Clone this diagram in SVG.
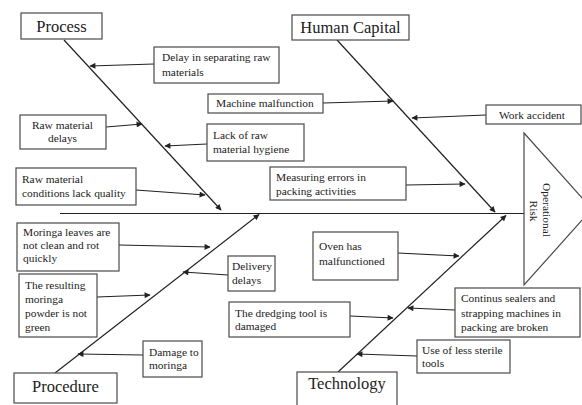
<svg xmlns="http://www.w3.org/2000/svg" width="582" height="405" viewBox="0 0 582 405">
<style>
.box{fill:#fff;stroke:#4a4a4a;stroke-width:1.2}
.t{font-family:"Liberation Serif","Times New Roman",serif;font-size:11.4px;fill:#222}
.h{font-family:"Liberation Serif","Times New Roman",serif;font-size:16.5px;fill:#222}
.c{text-anchor:middle}
.ln{stroke:#222;stroke-width:1.2;fill:none}
.ar{stroke:#222;stroke-width:1.2;fill:none;marker-end:url(#ah)}
</style>
<defs>
<marker id="ah" viewBox="0 0 10 10" refX="9" refY="5" markerWidth="7" markerHeight="6" markerUnits="userSpaceOnUse" orient="auto">
<path d="M0,0 L10,5 L0,10 z" fill="#222"/>
</marker>
</defs>
<rect width="582" height="405" fill="#fff"/>
<g id="connectors">
<line class="ln" x1="60" y1="213.5" x2="524" y2="213.5"/>
<line class="ar" x1="64" y1="40" x2="221" y2="210"/>
<line class="ar" x1="337" y1="40" x2="495" y2="212"/>
<line class="ar" x1="55" y1="373" x2="259" y2="214.5"/>
<line class="ar" x1="338" y1="372" x2="506" y2="215.5"/>
<line class="ar" x1="154" y1="64" x2="90" y2="66"/>
<line class="ar" x1="323" y1="103" x2="393" y2="101"/>
<line class="ar" x1="486" y1="115" x2="412" y2="118"/>
<line class="ar" x1="106" y1="127" x2="142" y2="124"/>
<line class="ar" x1="207" y1="144" x2="165" y2="146"/>
<line class="ar" x1="136" y1="190" x2="205" y2="195"/>
<line class="ar" x1="406" y1="185" x2="465" y2="184"/>
<line class="ar" x1="119" y1="245" x2="210" y2="247"/>
<line class="ar" x1="228" y1="275" x2="183" y2="272"/>
<line class="ar" x1="97" y1="297" x2="150" y2="295"/>
<line class="ar" x1="143" y1="355" x2="78" y2="354"/>
<line class="ar" x1="398" y1="253" x2="459" y2="256"/>
<line class="ar" x1="350" y1="316" x2="393" y2="318"/>
<line class="ar" x1="455" y1="310" x2="408" y2="308"/>
<line class="ar" x1="417" y1="356" x2="357" y2="354"/>
</g>
<g id="effect">
<polygon points="524,133 592,209 524,285" fill="#fff" stroke="#4a4a4a" stroke-width="1.2"/>
<text class="t c" transform="translate(543,210) rotate(90)">Operational</text>
<text class="t c" transform="translate(530,211) rotate(90)">Risk</text>
</g>
<g id="process"><rect class="box" x="21" y="13" width="81" height="26"/><text class="h c" x="61.5" y="32">Process</text></g>
<g id="human-capital"><rect class="box" x="292" y="15" width="117" height="25"/><text class="h c" x="350.5" y="33">Human Capital</text></g>
<g id="procedure"><rect class="box" x="14" y="373" width="103" height="30"/><text class="h c" x="65.5" y="392">Procedure</text></g>
<g id="technology"><rect class="box" x="297" y="372" width="100" height="40"/><text class="h c" x="347" y="389">Technology</text></g>
<g id="delay-separating"><rect class="box" x="154" y="47" width="125" height="36"/><text class="t" x="162" y="61">Delay in separating raw</text><text class="t" x="162" y="76">materials</text></g>
<g id="machine-malfunction"><rect class="box" x="208" y="94" width="115" height="19"/><text class="t" x="216" y="107">Machine malfunction</text></g>
<g id="work-accident"><rect class="box" x="486" y="105" width="95" height="19"/><text class="t" x="499" y="119">Work accident</text></g>
<g id="raw-material-delays"><rect class="box" x="20" y="115" width="86" height="34"/><text class="t c" x="62.5" y="129">Raw material</text><text class="t c" x="62.5" y="142">delays</text></g>
<g id="lack-hygiene"><rect class="box" x="207" y="124" width="97" height="37"/><text class="t" x="213" y="139">Lack of raw</text><text class="t" x="213" y="153">material hygiene</text></g>
<g id="raw-quality"><rect class="box" x="16" y="168" width="120" height="37"/><text class="t" x="22" y="183">Raw material</text><text class="t" x="22" y="197">conditions lack quality</text></g>
<g id="measuring-errors"><rect class="box" x="270" y="167" width="136" height="33"/><text class="t" x="276" y="181">Measuring errors in</text><text class="t" x="276" y="195">packing activities</text></g>
<g id="moringa-leaves"><rect class="box" x="17" y="223" width="102" height="48"/><text class="t" x="23" y="236">Moringa leaves are</text><text class="t" x="23" y="249">not clean and rot</text><text class="t" x="23" y="262">quickly</text></g>
<g id="delivery-delays"><rect class="box" x="228" y="256" width="47" height="35"/><text class="t" x="232" y="270">Delivery</text><text class="t" x="232" y="284">delays</text></g>
<g id="powder-not-green"><rect class="box" x="19" y="274" width="78" height="63"/><text class="t" x="25" y="289">The resulting</text><text class="t" x="25" y="303">moringa</text><text class="t" x="25" y="317">powder is not</text><text class="t" x="25" y="331">green</text></g>
<g id="damage-moringa"><rect class="box" x="143" y="341" width="59" height="36"/><text class="t" x="149" y="356">Damage to</text><text class="t" x="149" y="369">moringa</text></g>
<g id="oven"><rect class="box" x="313" y="232" width="85" height="48"/><text class="t" x="319" y="250">Oven has</text><text class="t" x="319" y="265">malfunctioned</text></g>
<g id="dredging-tool"><rect class="box" x="229" y="302" width="121" height="35"/><text class="t" x="235" y="317">The dredging tool is</text><text class="t" x="235" y="330">damaged</text></g>
<g id="sealers"><rect class="box" x="455" y="288" width="125" height="49"/><text class="t" x="461" y="302">Continus sealers and</text><text class="t" x="461" y="317">strapping machines in</text><text class="t" x="461" y="331">packing are broken</text></g>
<g id="sterile-tools"><rect class="box" x="417" y="340" width="93" height="33"/><text class="t" x="422" y="354">Use of less sterile</text><text class="t" x="422" y="367">tools</text></g>
</svg>
